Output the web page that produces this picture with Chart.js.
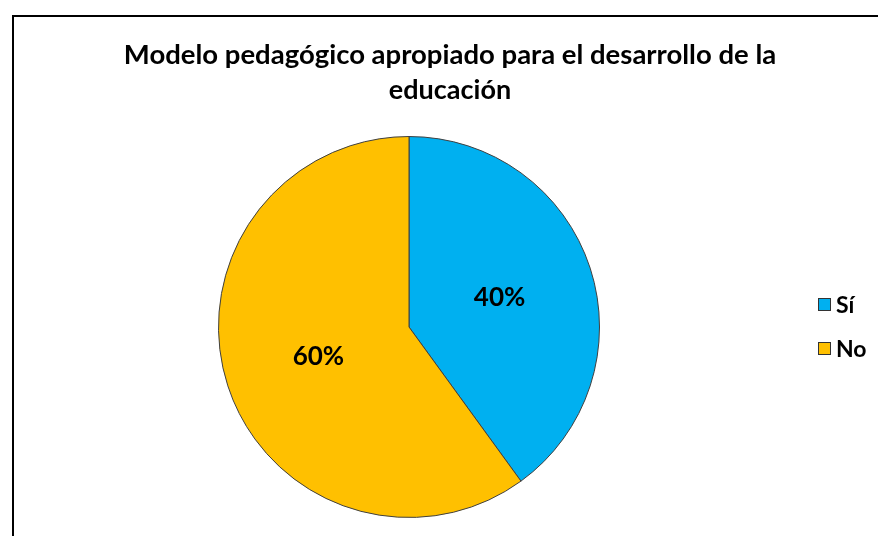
<!DOCTYPE html>
<html>
<head>
<meta charset="utf-8">
<script src="https://cdn.jsdelivr.net/npm/chart.js@4/dist/chart.umd.min.js"></script>
<style>
html,body{margin:0;padding:0;background:#fff;}
#wrap{position:relative;width:878px;height:536px;}
</style>
</head>
<body>
<div id="wrap"><canvas id="c" width="878" height="536"></canvas></div>
<script>
const titleLines = ["Modelo pedagógico apropiado para el desarrollo de la", "educación"];
const categories = ["Sí", "No"];
const values = [40, 60];
const colors = ["#00B0F0", "#FFC000"];

const FONT = "Lato, 'Open Sans', sans-serif";

const decor = {
  id: 'decor',
  beforeDraw(chart) {
    const ctx = chart.ctx;
    ctx.save();
    ctx.fillStyle = '#fff';
    ctx.fillRect(0, 0, chart.width, chart.height);
    ctx.strokeStyle = '#000';
    ctx.lineWidth = 2;
    ctx.beginPath();
    ctx.moveTo(13, chart.height + 5);
    ctx.lineTo(13, 16);
    ctx.lineTo(chart.width + 5, 16);
    ctx.stroke();
    ctx.restore();
  },
  afterDraw(chart) {
    const ctx = chart.ctx;
    ctx.save();
    // title
    ctx.fillStyle = '#000';
    ctx.textAlign = 'center';
    ctx.textBaseline = 'middle';
    ctx.font = "bold 27.5px " + FONT;
    ctx.fillText(titleLines[0], 450, 55);
    ctx.font = "bold 27px " + FONT;
    ctx.fillText(titleLines[1], 450, 90);
    // data labels
    const meta = chart.getDatasetMeta(0);
    const ds = chart.data.datasets[0];
    const total = ds.data.reduce((a, b) => a + b, 0);
    ctx.font = "bold 26px " + FONT;
    meta.data.forEach((arc, i) => {
      const p = arc.tooltipPosition();
      ctx.fillText(Math.round(ds.data[i] / total * 100) + '%', p.x, p.y);
    });
    // legend
    ctx.textAlign = 'left';
    ctx.font = "bold 23px " + FONT;
    const rows = [305, 349];
    chart.data.labels.forEach((lab, i) => {
      const y = rows[i];
      ctx.fillStyle = ds.backgroundColor[i];
      ctx.fillRect(818, y - 7, 13, 13);
      ctx.strokeStyle = '#333';
      ctx.lineWidth = 1;
      ctx.strokeRect(818.5, y - 6.5, 12, 12);
      ctx.fillStyle = '#000';
      ctx.fillText(lab, 836, y + 1);
    });
    ctx.restore();
  }
};

new Chart(document.getElementById('c'), {
  type: 'pie',
  data: {
    labels: categories,
    datasets: [{
      data: values,
      backgroundColor: colors,
      borderColor: '#404040',
      borderWidth: 1
    }]
  },
  options: {
    responsive: false,
    animation: false,
    layout: { padding: { left: 218, right: 278, top: 136, bottom: 18 } },
    plugins: {
      legend: { display: false },
      title: { display: false },
      tooltip: { enabled: false }
    }
  },
  plugins: [decor]
});
</script>
</body>
</html>
